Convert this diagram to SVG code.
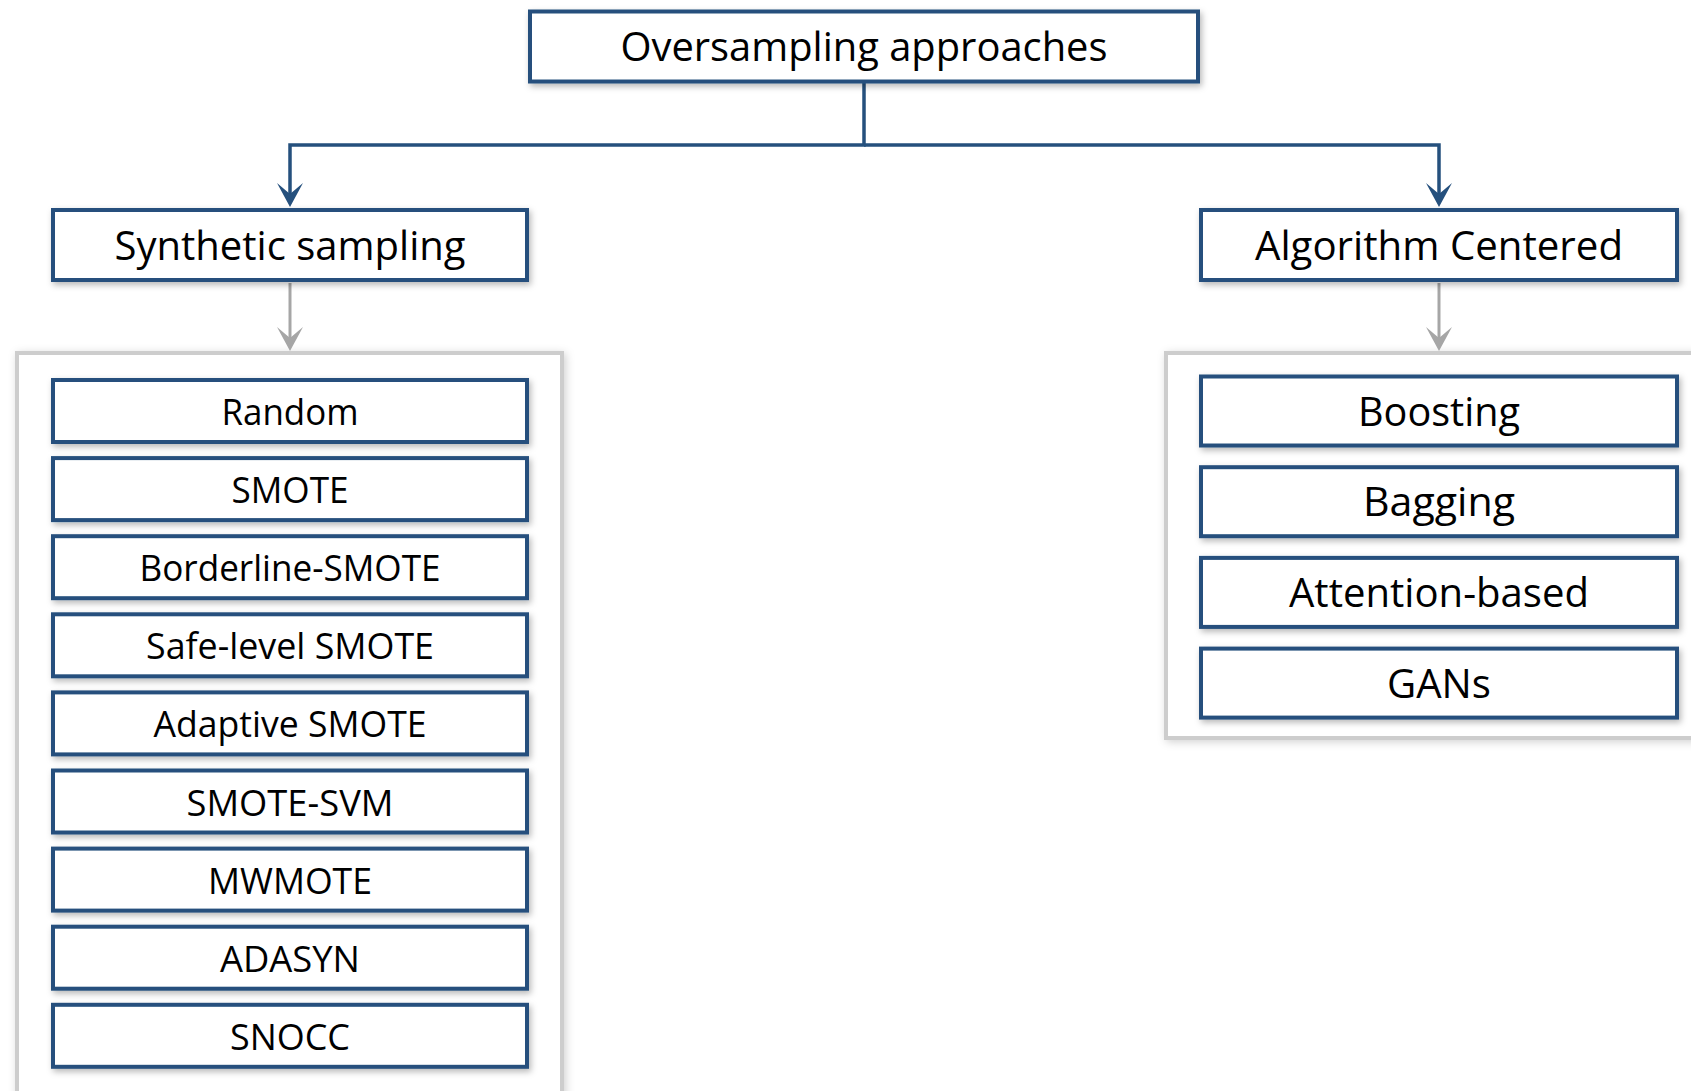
<svg xmlns="http://www.w3.org/2000/svg" width="1691" height="1091" viewBox="0 0 1691 1091">
<style>
.node rect{fill:#ffffff;stroke:#25507D;stroke-width:4;filter:url(#sh)}
.cont{fill:#ffffff;stroke:#CDCDCD;stroke-width:4;filter:url(#sh2)}
text{font-family:"Open Sans","Noto Sans","DejaVu Sans",sans-serif;fill:#000000;text-anchor:middle}
.h{font-size:41px}
.r{font-size:41px}
.l{font-size:36px}
.blue{fill:none;stroke:#25507D;stroke-width:3.5}
.gray{fill:none;stroke:#A6A6A6;stroke-width:3}
</style>
<defs>
<filter id="sh" x="-10%" y="-30%" width="120%" height="160%">
<feDropShadow dx="2" dy="3" stdDeviation="3" flood-color="#000000" flood-opacity="0.28"/>
</filter>
<filter id="sh2" x="-10%" y="-10%" width="120%" height="120%">
<feDropShadow dx="2" dy="2" stdDeviation="4" flood-color="#000000" flood-opacity="0.18"/>
</filter>
<marker id="ab" viewBox="0 0 24 26" refX="14" refY="13" markerWidth="24" markerHeight="26" markerUnits="userSpaceOnUse" orient="auto">
<path d="M0,0 L24,13 L0,26 L11,13 Z" fill="#25507D"/>
</marker>
<marker id="ag" viewBox="0 0 24 26" refX="14" refY="13" markerWidth="24" markerHeight="26" markerUnits="userSpaceOnUse" orient="auto">
<path d="M0,0 L24,13 L0,26 L11,13 Z" fill="#A6A6A6"/>
</marker>
</defs>
<rect x="0" y="0" width="1691" height="1091" fill="#ffffff"/>

<g id="containers">
<rect class="cont" x="17" y="353" width="545" height="760"/>
<rect class="cont" x="1166" y="353" width="560" height="385"/>
</g>

<g id="connectors">
<path class="blue" d="M864,83 V145 H290 V197" marker-end="url(#ab)"/>
<path class="blue" d="M864,145 H1439 V197" marker-end="url(#ab)"/>
<path class="gray" d="M290,283 V341" marker-end="url(#ag)"/>
<path class="gray" d="M1439,283 V341" marker-end="url(#ag)"/>
</g>

<g id="n-root" class="node"><rect x="530" y="11.5" width="668" height="70"/><text class="h" x="864" y="61" textLength="487" lengthAdjust="spacingAndGlyphs">Oversampling approaches</text></g>
<g id="n-synthetic" class="node"><rect x="53" y="210" width="474" height="70"/><text class="h" x="290" y="259.5" textLength="351" lengthAdjust="spacingAndGlyphs">Synthetic sampling</text></g>
<g id="n-algorithm" class="node"><rect x="1201" y="210" width="476" height="70"/><text class="h" x="1439" y="259.5" textLength="368" lengthAdjust="spacingAndGlyphs">Algorithm Centered</text></g>

<g id="n-random" class="node"><rect x="53" y="380" width="474" height="62"/><text class="l" x="290" y="425" textLength="137" lengthAdjust="spacingAndGlyphs">Random</text></g>
<g id="n-smote" class="node"><rect x="53" y="458.1" width="474" height="62"/><text class="l" x="290" y="503.1" textLength="117" lengthAdjust="spacingAndGlyphs">SMOTE</text></g>
<g id="n-borderline" class="node"><rect x="53" y="536.2" width="474" height="62"/><text class="l" x="290" y="581.2" textLength="301" lengthAdjust="spacingAndGlyphs">Borderline-SMOTE</text></g>
<g id="n-safelevel" class="node"><rect x="53" y="614.3" width="474" height="62"/><text class="l" x="290" y="659.3" textLength="288" lengthAdjust="spacingAndGlyphs">Safe-level SMOTE</text></g>
<g id="n-adaptive" class="node"><rect x="53" y="692.4" width="474" height="62"/><text class="l" x="290" y="737.4" textLength="273" lengthAdjust="spacingAndGlyphs">Adaptive SMOTE</text></g>
<g id="n-smotesvm" class="node"><rect x="53" y="770.5" width="474" height="62"/><text class="l" x="290" y="815.5" textLength="207" lengthAdjust="spacingAndGlyphs">SMOTE-SVM</text></g>
<g id="n-mwmote" class="node"><rect x="53" y="848.6" width="474" height="62"/><text class="l" x="290" y="893.6" textLength="164" lengthAdjust="spacingAndGlyphs">MWMOTE</text></g>
<g id="n-adasyn" class="node"><rect x="53" y="926.7" width="474" height="62"/><text class="l" x="290" y="971.7" textLength="140" lengthAdjust="spacingAndGlyphs">ADASYN</text></g>
<g id="n-snocc" class="node"><rect x="53" y="1004.8" width="474" height="62"/><text class="l" x="290" y="1049.8" textLength="120" lengthAdjust="spacingAndGlyphs">SNOCC</text></g>

<g id="n-boosting" class="node"><rect x="1201" y="376.5" width="476" height="69"/><text class="r" x="1439" y="425.5" textLength="162" lengthAdjust="spacingAndGlyphs">Boosting</text></g>
<g id="n-bagging" class="node"><rect x="1201" y="467.2" width="476" height="69"/><text class="r" x="1439" y="516.2" textLength="152" lengthAdjust="spacingAndGlyphs">Bagging</text></g>
<g id="n-attention" class="node"><rect x="1201" y="557.9" width="476" height="69"/><text class="r" x="1439" y="606.9" textLength="300" lengthAdjust="spacingAndGlyphs">Attention-based</text></g>
<g id="n-gans" class="node"><rect x="1201" y="648.6" width="476" height="69"/><text class="r" x="1439" y="697.6" textLength="104" lengthAdjust="spacingAndGlyphs">GANs</text></g>
</svg>
